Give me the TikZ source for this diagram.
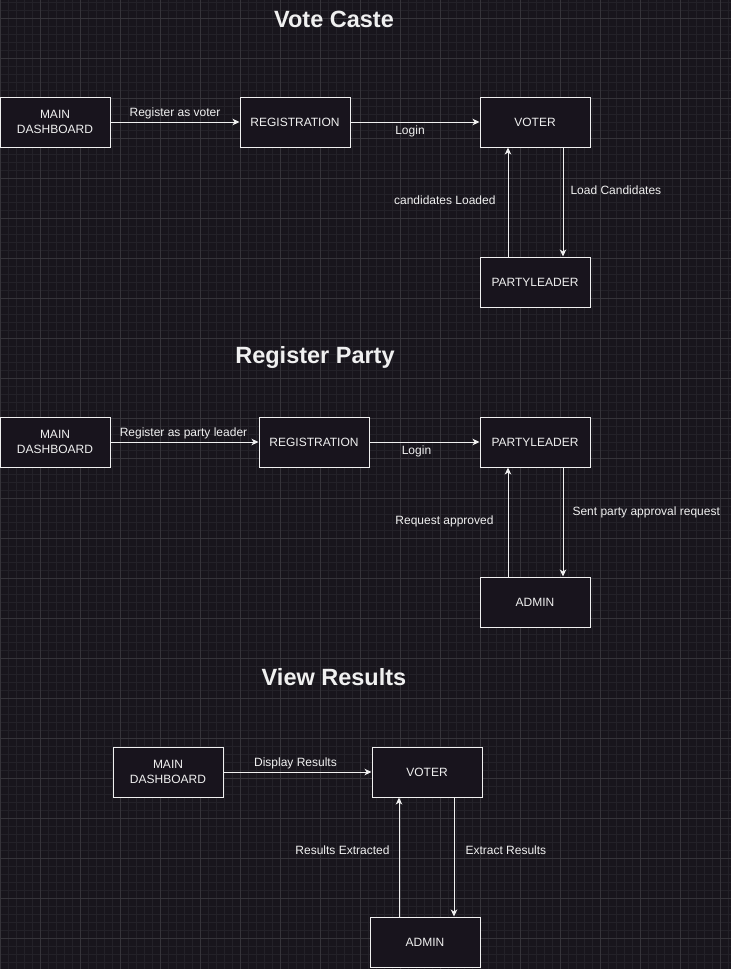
\documentclass[tikz,border=0pt]{standalone}
\usepackage{fontspec}
\setmainfont{Liberation Sans}
\usetikzlibrary{arrows.meta,positioning}

\definecolor{bgcol}{RGB}{24,21,28}
\definecolor{minorgrid}{RGB}{35,33,40}
\definecolor{majorgrid}{RGB}{54,52,58}
\definecolor{inkcol}{RGB}{240,240,240}
\definecolor{boxfill}{RGB}{24,20,29}

\tikzset{
  block/.style={draw=inkcol, fill=boxfill, line width=1pt, minimum width=110pt,
    minimum height=50pt, inner sep=0pt, align=center, text=inkcol,
    font=\fontsize{12}{15}\selectfont},
  flow/.style={draw=inkcol, line width=1pt, -{Stealth[length=7pt,width=6.5pt,inset=2pt]}},
  flowlabel/.style={text=inkcol, inner sep=0pt, font=\fontsize{12}{14}\selectfont},
  heading/.style={text=inkcol, inner sep=0pt, font=\bfseries\fontsize{23.5}{28}\selectfont}
}

\begin{document}
\begin{tikzpicture}[x=1pt,y=-1pt]
                \useasboundingbox (0,0) rectangle (731,969);
                \fill[bgcol] (0,0) rectangle (731,969);
                \foreach \x in {0,8,...,728} \draw[minorgrid,line width=0.8pt] (\x,0) -- (\x,969);
                \foreach \y in {2,10,...,968} \draw[minorgrid,line width=0.8pt] (0,\y) -- (731,\y);
                \foreach \x in {0,40,...,720} \draw[majorgrid,line width=0.8pt] (\x,0) -- (\x,969);
                \foreach \y in {18,58,...,938} \draw[majorgrid,line width=0.8pt] (0,\y) -- (731,\y);

                \node[heading] (t1) at (334,19) {Vote Caste};
                \node[block] (md1) at (55,122) {MAIN\\DASHBOARD};
                \node[block] (reg1) at (295,122) {REGISTRATION};
                \node[block] (voter1) at (535,122) {VOTER};
                \node[block] (pl1) at (535,282) {PARTYLEADER};

                \draw[flow] (md1) -- node[flowlabel,above=3pt] {Register as voter} (reg1);
                \draw[flow] (reg1) -- node[flowlabel,below=3pt,xshift=-5pt] {Login} (voter1);
                \draw[flow] ([xshift=-27pt]pl1.north) -- node[flowlabel,left=12pt,yshift=2pt] {candidates Loaded} ([xshift=-27pt]voter1.south);
                \draw[flow] ([xshift=28pt]voter1.south) -- node[flowlabel,right=7pt,yshift=12pt] {Load Candidates} ([xshift=28pt]pl1.north);

                \node[heading] (t2) at (315,357) {Register Party};
                \node[block] (md2) at (55,442) {MAIN\\DASHBOARD};
                \node[block] (reg2) at (314,442) {REGISTRATION};
                \node[block] (pl2) at (535,442) {PARTYLEADER};
                \node[block] (admin2) at (535,602) {ADMIN};

                \draw[flow] (md2) -- node[flowlabel,above=3pt,xshift=-1pt] {Register as party leader} (reg2);
                \draw[flow] (reg2) -- node[flowlabel,below=3pt,xshift=-8pt] {Login} (pl2);
                \draw[flow] ([xshift=-27pt]admin2.north) -- node[flowlabel,left=14pt,yshift=1pt] {Request approved} ([xshift=-27pt]pl2.south);
                \draw[flow] ([xshift=28pt]pl2.south) -- node[flowlabel,right=9pt,yshift=10pt] {Sent party approval request} ([xshift=28pt]admin2.north);

                \node[heading] (t3) at (334,677) {View Results};
                \node[block] (md3) at (168,772) {MAIN\\DASHBOARD};
                \node[block] (voter3) at (427,772) {VOTER};
                \node[block] (admin3) at (425,942) {ADMIN};

                \draw[flow] (md3) -- node[flowlabel,above=3pt,xshift=-2pt] {Display Results} (voter3);
                \draw[flow] ([xshift=-26pt]admin3.north) -- node[flowlabel,left=9pt,yshift=7pt] {Results Extracted} ([xshift=-28pt]voter3.south);
                \draw[flow] ([xshift=27pt]voter3.south) -- node[flowlabel,right=11pt,yshift=7pt] {Extract Results} ([xshift=29pt]admin3.north);

            \end{tikzpicture}
\end{document}
